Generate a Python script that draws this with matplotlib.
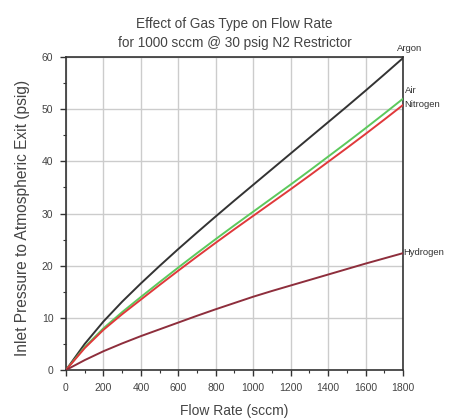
import matplotlib
matplotlib.use("Agg")
import matplotlib.pyplot as plt
from matplotlib.ticker import MultipleLocator

plt.rcParams['font.family'] = ['Liberation Sans', 'DejaVu Sans']

flow = [0, 100, 200, 300, 400, 500, 600, 700, 800, 900, 1000,
        1100, 1200, 1300, 1400, 1500, 1600, 1700, 1800]
argon = [0, 5.0, 9.3, 13.1, 16.6, 19.95, 23.2, 26.35, 29.45, 32.5, 35.5,
         38.5, 41.5, 44.5, 47.5, 50.5, 53.55, 56.65, 59.8]
air = [0, 4.4, 8.0, 11.1, 14.0, 16.85, 19.65, 22.4, 25.1, 27.75, 30.35,
       32.95, 35.55, 38.2, 40.9, 43.6, 46.35, 49.15, 52.0]
nitrogen = [0, 4.2, 7.7, 10.7, 13.5, 16.3, 19.05, 21.75, 24.4, 27.0, 29.55,
            32.1, 34.65, 37.25, 39.9, 42.55, 45.25, 48.0, 50.8]
hydrogen = [0, 1.9, 3.6, 5.1, 6.5, 7.8, 9.1, 10.4, 11.65, 12.85, 14.05,
            15.15, 16.2, 17.25, 18.3, 19.35, 20.4, 21.4, 22.4]

series = [
    ("Argon", argon, "#333333", (1770, 61.7)),
    ("Air", air, "#5cc95c", (1808, 53.6)),
    ("Nitrogen", nitrogen, "#e0393b", (1808, 50.8)),
    ("Hydrogen", hydrogen, "#8e2e3c", (1800, 22.5)),
]

fig = plt.figure(figsize=(4.56, 4.19), dpi=100)
ax = fig.add_axes([0.1447, 0.1169, 0.7391, 0.7471])

for name, vals, color, (lx, ly) in series:
    ax.plot(flow, vals, color=color, lw=1.4, zorder=3)
for name, vals, color, (lx, ly) in series:
    ax.text(lx, ly, name, fontsize=6.8, color="#333333", va="center", ha="left", clip_on=False)

ax.set_xlim(0, 1800)
ax.set_ylim(0, 60)
ax.xaxis.set_major_locator(MultipleLocator(200))
ax.xaxis.set_minor_locator(MultipleLocator(100))
ax.yaxis.set_major_locator(MultipleLocator(10))
ax.yaxis.set_minor_locator(MultipleLocator(5))
ax.grid(True, which="major", color="#cccccc", lw=1.0, zorder=0)
ax.tick_params(which="major", direction="out", length=4, width=1, colors="#333333",
               labelsize=7.5, labelcolor="#444444", pad=5)
ax.tick_params(which="minor", direction="out", length=2, width=0.8, colors="#333333")
for s in ax.spines.values():
    s.set_color("#333333")
    s.set_linewidth(1.2)

ax.set_xlabel("Flow Rate (sccm)", fontsize=10, color="#444444", labelpad=8)
ax.set_ylabel("Inlet Pressure to Atmospheric Exit (psig)", fontsize=11.2, color="#444444")
ax.yaxis.set_label_coords(-0.108, 0.486)
ax.set_title("Effect of Gas Type on Flow Rate\nfor 1000 sccm @ 30 psig N2 Restrictor",
             fontsize=9.8, color="#444444", pad=7, linespacing=1.45)

fig.savefig("out.png", dpi=100, facecolor="white")
